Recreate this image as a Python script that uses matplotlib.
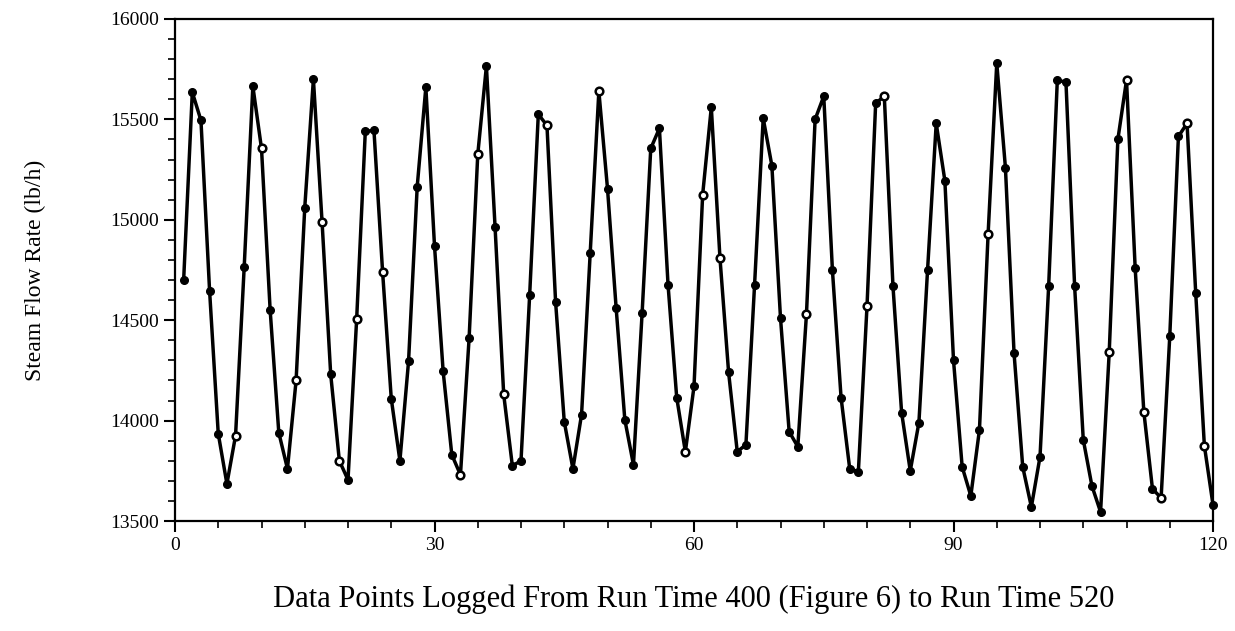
#!/usr/bin/env python
# Steam flow rate, data points logged from run time 400 to 520

import numpy as np
import matplotlib
matplotlib.use("Agg")
import matplotlib.pyplot as plt
from matplotlib.ticker import MultipleLocator

plt.rcParams['font.family'] = ['Liberation Serif', 'DejaVu Serif']

# data point number (1..120) and steam flow rate in lb/h
point = np.arange(1, 121)
flow = [14700, 15635, 15495, 14645, 13935, 13685, 13925, 14765, 15665, 15355,
        14550, 13940, 13760, 14200, 15060, 15700, 14990, 14230, 13800, 13705,
        14505, 15440, 15445, 14740, 14110, 13800, 14295, 15165, 15660, 14870,
        14245, 13830, 13730, 14410, 15325, 15765, 14965, 14130, 13775, 13800,
        14625, 15525, 15470, 14590, 13995, 13760, 14030, 14835, 15640, 15155,
        14560, 14005, 13780, 14535, 15355, 15455, 14675, 14115, 13845, 14170,
        15125, 15560, 14810, 14240, 13845, 13880, 14675, 15505, 15270, 14510,
        13945, 13870, 14530, 15500, 15615, 14750, 14115, 13760, 13745, 14570,
        15580, 15615, 14670, 14040, 13750, 13990, 14750, 15480, 15195, 14300,
        13770, 13625, 13955, 14930, 15780, 15260, 14335, 13770, 13570, 13820,
        14670, 15695, 15685, 14670, 13905, 13675, 13545, 14340, 15400, 15695,
        14760, 14045, 13660, 13615, 14420, 15415, 15480, 14635, 13875, 13580]

# points drawn with hollow markers in the original
hollow = [7, 10, 14, 17, 19, 21, 24, 33, 35, 38, 43, 49, 59, 61, 63, 73,
          80, 82, 94, 108, 110, 112, 114, 117, 119]

flow = np.array(flow)
is_open = np.isin(point, hollow)

fig = plt.figure(figsize=(12.35, 6.31), dpi=100)
ax = fig.add_axes([0.1417, 0.1743, 0.8405, 0.7957])

ax.plot(point, flow, color='black', lw=2.5, zorder=2, clip_on=False)
ax.plot(point[~is_open], flow[~is_open], 'o', color='black', ms=5.5,
        zorder=3, clip_on=False)
ax.plot(point[is_open], flow[is_open], 'o', mfc='white', mec='black',
        mew=1.8, ms=5.5, zorder=3, clip_on=False)

ax.set_xlim(0, 120)
ax.set_ylim(13500, 16000)
ax.xaxis.set_major_locator(MultipleLocator(30))
ax.xaxis.set_minor_locator(MultipleLocator(5))
ax.yaxis.set_major_locator(MultipleLocator(500))
ax.yaxis.set_minor_locator(MultipleLocator(100))
ax.tick_params(which='major', direction='out', length=8, width=1.5,
               labelsize=14, top=False, right=False)
ax.tick_params(which='minor', direction='out', length=5, width=1.2,
               top=False, right=False)
for s in ax.spines.values():
    s.set_linewidth(1.6)

ax.set_xlabel('Data Points Logged From Run Time 400 (Figure 6) to Run Time 520',
              fontsize=22, labelpad=22)
ax.set_ylabel('Steam Flow Rate (lb/h)', fontsize=17, labelpad=46)

fig.savefig('out.png', dpi=100)
